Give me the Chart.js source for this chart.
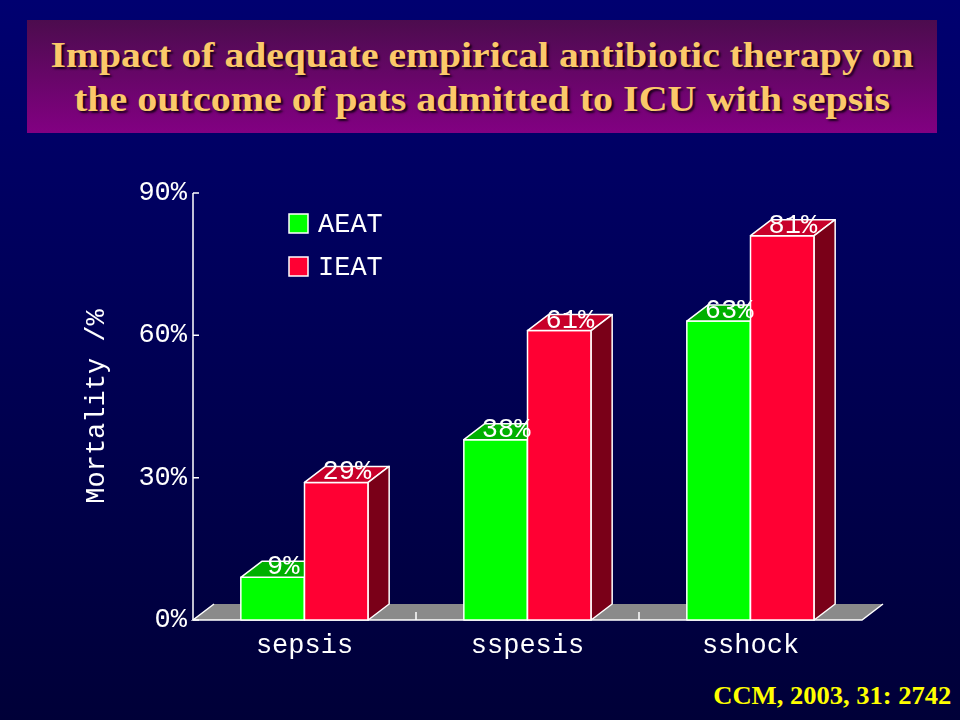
<!DOCTYPE html>
<html lang="en">

<head>
   <meta charset="UTF-8">
   <title>Impact of adequate empirical antibiotic therapy</title>
   <script src="https://cdn.jsdelivr.net/npm/chart.js@4.4.1/dist/chart.umd.min.js"></script>
   <style>
      html, body { margin: 0; padding: 0; width: 960px; height: 720px; overflow: hidden; }
      body { background: linear-gradient(#000070, #000038); position: relative; font-family: "Liberation Serif", serif; }
      #titleBox {
         position: absolute; left: 27px; top: 20px; width: 910px; height: 113px;
         background: linear-gradient(#4c0c4e, #820082);
         color: #fbc96a; font-weight: bold; font-size: 36px; line-height: 44px;
         text-shadow: 2px 2px 2px #1a001a; text-align: center;
      }
      #titleBox .line { display: block; white-space: nowrap; }
      #titleBox .line span { display: inline-block; transform-origin: center; }
      #titleBox .l1 { margin-top: 13px; }
      #source {
         position: absolute; right: 9px; top: 682px; color: #ffff00;
         font-weight: bold; font-size: 25px; white-space: nowrap;
      }
      #source span { display: inline-block; transform-origin: right center; }
      canvas { position: absolute; left: 0; top: 0; }
   </style>
</head>

<body>
   <div id="titleBox">
      <div class="line l1"><span data-w="863">Impact of adequate empirical antibiotic therapy on</span></div>
      <div class="line"><span data-w="816">the outcome of pats admitted to ICU with sepsis</span></div>
   </div>
   <div id="source"><span data-w="238">CCM, 2003, 31: 2742</span></div>
   <canvas id="myChart" width="960" height="720"></canvas>
   <script>
      const categories = ['sepsis', 'sspesis', 'sshock'];
      const aeatValues = [9, 38, 63];
      const ieatValues = [29, 61, 81];
      const seriesNames = ['AEAT', 'IEAT'];
      const yTicks = [0, 30, 60, 90];

      const frontColors = ['#00ff00', '#ff0033'];
      const topColors = ['#00b000', '#c8002a'];
      const sideColors = ['#007000', '#7a0018'];
      const monoFont = '"Liberation Mono", "DejaVu Sans Mono", monospace';
      const DX = 21, DY = 16;

      // squeeze the html texts to the widths measured on the slide
      document.querySelectorAll('[data-w]').forEach(el => {
         const w = el.getBoundingClientRect().width;
         el.style.transform = 'scaleX(' + (parseFloat(el.dataset.w) / w) + ')';
      });

      function face(ctx, pts, fill) {
         ctx.beginPath();
         ctx.moveTo(pts[0][0], pts[0][1]);
         for (let i = 1; i < pts.length; i++) ctx.lineTo(pts[i][0], pts[i][1]);
         ctx.closePath();
         ctx.fillStyle = fill;
         ctx.fill();
         ctx.stroke();
      }

      const box3d = {
         id: 'box3d',
         beforeDatasetsDraw(chart) {
            const { ctx, chartArea } = chart;
            const base = chart.scales.y.getPixelForValue(0);
            const l = chartArea.left, r = chartArea.right;
            ctx.save();
            ctx.fillStyle = '#8a8a8a';
            ctx.beginPath();
            ctx.moveTo(l, base);
            ctx.lineTo(l + DX, base - DY);
            ctx.lineTo(r + DX, base - DY);
            ctx.lineTo(r, base);
            ctx.closePath();
            ctx.fill();
            ctx.strokeStyle = '#ffffff';
            ctx.lineWidth = 1.5;
            ctx.beginPath();
            ctx.moveTo(l + DX, base - DY);
            ctx.lineTo(l, base);
            ctx.lineTo(r, base);
            ctx.lineTo(r + DX, base - DY);
            ctx.stroke();
            // category separators on the floor
            const step = (r - l) / categories.length;
            for (let i = 1; i < categories.length; i++) {
               ctx.beginPath();
               ctx.moveTo(l + step * i, base);
               ctx.lineTo(l + step * i, base - 8);
               ctx.stroke();
            }
            ctx.restore();
         },
         afterDatasetsDraw(chart) {
            const { ctx } = chart;
            const metas = chart.data.datasets.map((d, i) => chart.getDatasetMeta(i));
            ctx.save();
            ctx.strokeStyle = '#ffffff';
            ctx.lineWidth = 1.5;
            ctx.lineJoin = 'round';
            for (let j = 0; j < categories.length; j++) {
               metas.forEach((meta, i) => {
                  const { x, y, base, width } = meta.data[j].getProps(['x', 'y', 'base', 'width'], true);
                  const l = x - width / 2, r = x + width / 2;
                  face(ctx, [[l, y], [r, y], [r, base], [l, base]], frontColors[i]);
                  face(ctx, [[l, y], [l + DX, y - DY], [r + DX, y - DY], [r, y]], topColors[i]);
                  face(ctx, [[r, y], [r + DX, y - DY], [r + DX, base - DY], [r, base]], sideColors[i]);
               });
            }
            // value labels
            ctx.fillStyle = '#ffffff';
            ctx.font = '27px ' + monoFont;
            ctx.textAlign = 'center';
            ctx.textBaseline = 'alphabetic';
            metas.forEach((meta, i) => {
               meta.data.forEach((bar, j) => {
                  const { x, y } = bar.getProps(['x', 'y'], true);
                  ctx.fillText(chart.data.datasets[i].data[j] + '%', x + DX / 2, y - 3);
               });
            });
            ctx.restore();
         },
         afterDraw(chart) {
            const { ctx, chartArea } = chart;
            const yScale = chart.scales.y;
            ctx.save();
            ctx.strokeStyle = '#ffffff';
            ctx.lineWidth = 1.5;
            // y axis line with inward ticks
            ctx.beginPath();
            ctx.moveTo(chartArea.left, yScale.getPixelForValue(90));
            ctx.lineTo(chartArea.left, yScale.getPixelForValue(0));
            yTicks.forEach(v => {
               const py = yScale.getPixelForValue(v);
               ctx.moveTo(chartArea.left, py);
               ctx.lineTo(chartArea.left + 6, py);
            });
            ctx.stroke();
            // legend
            ctx.font = '27px ' + monoFont;
            ctx.textAlign = 'left';
            ctx.textBaseline = 'middle';
            chart.data.datasets.forEach((ds, i) => {
               const ly = 214 + i * 43;
               ctx.fillStyle = frontColors[i];
               ctx.fillRect(289, ly, 19, 19);
               ctx.strokeRect(289, ly, 19, 19);
               ctx.fillStyle = '#ffffff';
               ctx.fillText(ds.label, 318, ly + 11);
            });
            ctx.restore();
         }
      };

      const config = {
         type: 'bar',
         data: {
            labels: categories,
            datasets: [{
               label: seriesNames[0],
               data: aeatValues,
               backgroundColor: frontColors[0],
               borderWidth: 0
            }, {
               label: seriesNames[1],
               data: ieatValues,
               backgroundColor: frontColors[1],
               borderWidth: 0
            }]
         },
         options: {
            responsive: false,
            animation: false,
            devicePixelRatio: 1,
            layout: { padding: { top: 193, right: 98, left: 0, bottom: 0 } },
            datasets: { bar: { categoryPercentage: 0.571, barPercentage: 1 } },
            plugins: {
               legend: { display: false },
               tooltip: { enabled: false }
            },
            scales: {
               x: {
                  grid: { display: false, drawTicks: false },
                  border: { display: false },
                  ticks: { color: '#ffffff', font: { family: monoFont, size: 27 }, padding: 10 },
                  afterFit: s => { s.height = 100; }
               },
               y: {
                  min: 0,
                  max: 90,
                  grid: { display: false, drawTicks: false },
                  border: { display: false },
                  afterBuildTicks: s => { s.ticks = yTicks.map(v => ({ value: v })); },
                  ticks: {
                     color: '#ffffff',
                     font: { family: monoFont, size: 27 },
                     padding: 6,
                     callback: v => v + '%'
                  },
                  title: {
                     display: true,
                     text: 'Mortality /%',
                     color: '#ffffff',
                     font: { family: monoFont, size: 27, lineHeight: 1 },
                     padding: { top: 83, bottom: 0 }
                  },
                  afterFit: s => { s.width = 193; }
               }
            }
         },
         plugins: [box3d]
      };

      const chart = new Chart(document.getElementById('myChart'), config);
   </script>
</body>

</html>
